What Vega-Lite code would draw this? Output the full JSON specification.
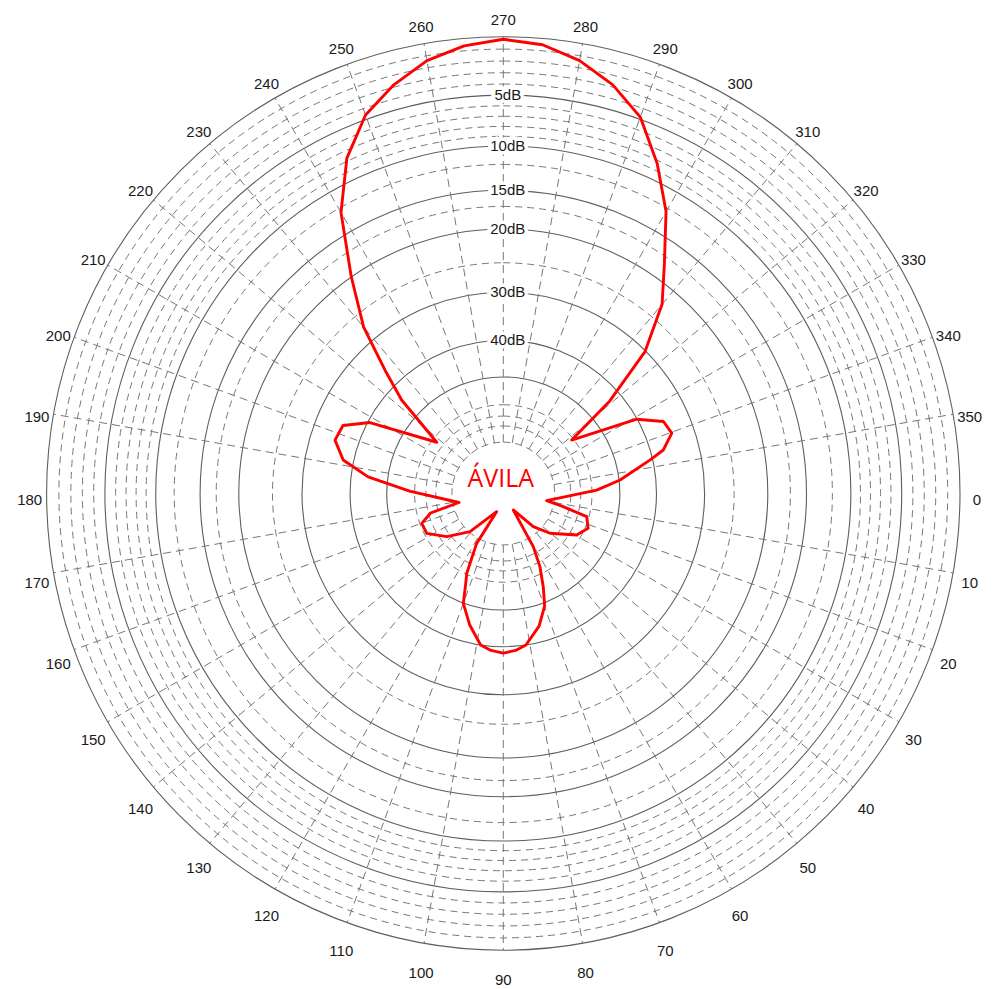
{
  "$schema": "https://vega.github.io/schema/vega-lite/v6.json",
  "width": 995,
  "height": 989,
  "padding": 0,
  "autosize": {"type": "none"},
  "background": "white",
  "config": {"view": {"stroke": null}},
  "datasets": {
    "pattern": [
      {"i": 0, "angle": 270, "db": 0.2}, {"i": 1, "angle": 275, "db": 0.5}, {"i": 2, "angle": 280, "db": 1.4},
      {"i": 3, "angle": 285, "db": 2.8}, {"i": 4, "angle": 290, "db": 4.8}, {"i": 5, "angle": 295, "db": 8.3},
      {"i": 6, "angle": 300, "db": 12.4}, {"i": 7, "angle": 305, "db": 17.8}, {"i": 8, "angle": 310, "db": 22.5},
      {"i": 9, "angle": 315, "db": 30.2}, {"i": 10, "angle": 319, "db": 43}, {"i": 11, "angle": 322, "db": 60.8},
      {"i": 12, "angle": 330.9, "db": 40.1}, {"i": 13, "angle": 335.8, "db": 35.0}, {"i": 14, "angle": 340.3, "db": 34.3},
      {"i": 15, "angle": 344.8, "db": 37.1}, {"i": 16, "angle": 347.1, "db": 40.6}, {"i": 17, "angle": 353.4, "db": 49.7},
      {"i": 18, "angle": 357.9, "db": 58.1}, {"i": 19, "angle": 9.4, "db": 85.7}, {"i": 20, "angle": 12.4, "db": 73.5},
      {"i": 21, "angle": 15.5, "db": 60.9}, {"i": 22, "angle": 22.3, "db": 58.8}, {"i": 23, "angle": 29.5, "db": 61.9},
      {"i": 24, "angle": 40.4, "db": 73.5}, {"i": 25, "angle": 47.9, "db": 85.1}, {"i": 26, "angle": 58.8, "db": 115.9},
      {"i": 27, "angle": 60.6, "db": 73.7}, {"i": 28, "angle": 63.4, "db": 63}, {"i": 29, "angle": 66.8, "db": 55.1},
      {"i": 30, "angle": 69.8, "db": 49}, {"i": 31, "angle": 74.9, "db": 44}, {"i": 32, "angle": 81.5, "db": 40},
      {"i": 33, "angle": 85.5, "db": 39}, {"i": 34, "angle": 90, "db": 38.5}, {"i": 35, "angle": 94.5, "db": 39},
      {"i": 36, "angle": 98.5, "db": 40}, {"i": 37, "angle": 104.4, "db": 44.5}, {"i": 38, "angle": 110, "db": 49.9},
      {"i": 39, "angle": 112.2, "db": 55.5}, {"i": 40, "angle": 114.6, "db": 60.4}, {"i": 41, "angle": 118.1, "db": 76.5},
      {"i": 42, "angle": 110.1, "db": 115.7},
      {"i": 43, "angle": 131.1, "db": 80.5}, {"i": 44, "angle": 142.6, "db": 68.1}, {"i": 45, "angle": 152.5, "db": 61.0},
      {"i": 46, "angle": 159.9, "db": 60.8}, {"i": 47, "angle": 165, "db": 66}, {"i": 48, "angle": 168.5, "db": 84.7},
      {"i": 49, "angle": 181.5, "db": 58}, {"i": 50, "angle": 187, "db": 44.3}, {"i": 51, "angle": 191.8, "db": 37.6},
      {"i": 52, "angle": 197.6, "db": 34.8}, {"i": 53, "angle": 203, "db": 35.3}, {"i": 54, "angle": 208, "db": 40.5},
      {"i": 55, "angle": 217.6, "db": 62}, {"i": 56, "angle": 222.6, "db": 43.8}, {"i": 57, "angle": 226.2, "db": 36.0},
      {"i": 58, "angle": 230, "db": 27.2}, {"i": 59, "angle": 235, "db": 19.9}, {"i": 60, "angle": 240, "db": 12.5},
      {"i": 61, "angle": 245, "db": 7.7}, {"i": 62, "angle": 250, "db": 4.6}, {"i": 63, "angle": 255, "db": 2.8},
      {"i": 64, "angle": 260, "db": 1.4}, {"i": 65, "angle": 265, "db": 0.6}, {"i": 66, "angle": 270, "db": 0.2}
    ],
    "solidCircles": [
      {"db": 0}, {"db": 5}, {"db": 10}, {"db": 15}, {"db": 20}, {"db": 30}, {"db": 40}, {"db": 50}
    ],
    "dashedCircles": [
      {"db": 1}, {"db": 2}, {"db": 3}, {"db": 4}, {"db": 6}, {"db": 7}, {"db": 8}, {"db": 9},
      {"db": 12}, {"db": 17}, {"db": 25}, {"db": 60}, {"db": 65}, {"db": 70}, {"db": 80}
    ],
    "spokes": [
      {"angle": 10}, {"angle": 20}, {"angle": 30}, {"angle": 40}, {"angle": 50}, {"angle": 60}, {"angle": 70}, {"angle": 80},
      {"angle": 90}, {"angle": 100}, {"angle": 110}, {"angle": 120}, {"angle": 130}, {"angle": 140}, {"angle": 150},
      {"angle": 160}, {"angle": 170}, {"angle": 190}, {"angle": 200}, {"angle": 210}, {"angle": 220}, {"angle": 230},
      {"angle": 240}, {"angle": 250}, {"angle": 260}, {"angle": 270}, {"angle": 280}, {"angle": 290}, {"angle": 300},
      {"angle": 310}, {"angle": 320}, {"angle": 330}, {"angle": 340}, {"angle": 350}
    ],
    "angleLabels": [
      {"angle": 0, "label": "0"}, {"angle": 10, "label": "10"}, {"angle": 20, "label": "20"}, {"angle": 30, "label": "30"},
      {"angle": 40, "label": "40"}, {"angle": 50, "label": "50"}, {"angle": 60, "label": "60"}, {"angle": 70, "label": "70"},
      {"angle": 80, "label": "80"}, {"angle": 90, "label": "90"}, {"angle": 100, "label": "100"}, {"angle": 110, "label": "110"},
      {"angle": 120, "label": "120"}, {"angle": 130, "label": "130"}, {"angle": 140, "label": "140"}, {"angle": 150, "label": "150"},
      {"angle": 160, "label": "160"}, {"angle": 170, "label": "170"}, {"angle": 180, "label": "180"}, {"angle": 190, "label": "190"},
      {"angle": 200, "label": "200"}, {"angle": 210, "label": "210"}, {"angle": 220, "label": "220"}, {"angle": 230, "label": "230"},
      {"angle": 240, "label": "240"}, {"angle": 250, "label": "250"}, {"angle": 260, "label": "260"}, {"angle": 270, "label": "270"},
      {"angle": 280, "label": "280"}, {"angle": 290, "label": "290"}, {"angle": 300, "label": "300"}, {"angle": 310, "label": "310"},
      {"angle": 320, "label": "320"}, {"angle": 330, "label": "330"}, {"angle": 340, "label": "340"}, {"angle": 350, "label": "350"}
    ],
    "dbLabels": [
      {"db": 5, "label": "5dB"}, {"db": 10, "label": "10dB"}, {"db": 15, "label": "15dB"},
      {"db": 20, "label": "20dB"}, {"db": 30, "label": "30dB"}, {"db": 40, "label": "40dB"}
    ],
    "title": [{"name": "ÁVILA"}]
  },
  "layer": [
    {
      "data": {"name": "dashedCircles"},
      "transform": [{"calculate": "exp(-0.02731*datum.db)", "as": "rr"}],
      "mark": {"type": "arc", "theta": 0, "theta2": 6.2835, "filled": false, "stroke": "#777777", "strokeWidth": 1, "strokeDash": [7, 5]},
      "encoding": {
        "x": {"datum": 0, "type": "quantitative", "scale": {"domain": [-1.10203, 1.07664], "nice": false, "zero": false}, "axis": null},
        "y": {"datum": 0, "type": "quantitative", "scale": {"domain": [-1.08058, 1.08496], "nice": false, "zero": false, "reverse": true}, "axis": null},
        "radius": {"field": "rr", "type": "quantitative", "stack": null, "scale": {"type": "linear", "domain": [0, 1], "range": [0, 456.7], "zero": true}}
      }
    },
    {
      "data": {"name": "solidCircles"},
      "transform": [{"calculate": "exp(-0.02731*datum.db)", "as": "rr"}],
      "mark": {"type": "arc", "theta": 0, "theta2": 6.2835, "filled": false, "stroke": "#5e5e5e", "strokeWidth": 1.1},
      "encoding": {
        "x": {"datum": 0, "type": "quantitative"},
        "y": {"datum": 0, "type": "quantitative"},
        "radius": {"field": "rr", "type": "quantitative", "stack": null}
      }
    },
    {
      "data": {"name": "spokes"},
      "transform": [
        {"calculate": "exp(-0.02731*80)*cos(datum.angle*PI/180)", "as": "x0"},
        {"calculate": "exp(-0.02731*80)*sin(datum.angle*PI/180)", "as": "y0"},
        {"calculate": "cos(datum.angle*PI/180)", "as": "x1"},
        {"calculate": "sin(datum.angle*PI/180)", "as": "y1"}
      ],
      "mark": {"type": "rule", "stroke": "#777777", "strokeWidth": 1, "strokeDash": [8, 5]},
      "encoding": {
        "x": {"field": "x0", "type": "quantitative"},
        "y": {"field": "y0", "type": "quantitative"},
        "x2": {"field": "x1"},
        "y2": {"field": "y1"}
      }
    },
    {
      "mark": {"type": "rule", "stroke": "#707070", "strokeWidth": 1},
      "encoding": {
        "x": {"datum": -1, "type": "quantitative"},
        "x2": {"datum": 1},
        "y": {"datum": 0, "type": "quantitative"}
      }
    },
    {
      "data": {"name": "dbLabels"},
      "transform": [{"calculate": "-exp(-0.02731*datum.db)", "as": "ly"}],
      "mark": {"type": "text", "align": "center", "baseline": "middle", "dx": 4.5, "fontSize": 15, "font": "Liberation Sans", "stroke": "white", "strokeWidth": 7, "fill": "white"},
      "encoding": {
        "x": {"datum": 0, "type": "quantitative"},
        "y": {"field": "ly", "type": "quantitative"},
        "text": {"field": "label"}
      }
    },
    {
      "data": {"name": "dbLabels"},
      "transform": [{"calculate": "-exp(-0.02731*datum.db)", "as": "ly"}],
      "mark": {"type": "text", "align": "center", "baseline": "middle", "dx": 4.5, "fontSize": 15, "font": "Liberation Sans", "fill": "#1a1a1a"},
      "encoding": {
        "x": {"datum": 0, "type": "quantitative"},
        "y": {"field": "ly", "type": "quantitative"},
        "text": {"field": "label"}
      }
    },
    {
      "data": {"name": "angleLabels"},
      "transform": [
        {"calculate": "1.037*cos(datum.angle*PI/180)", "as": "lx"},
        {"calculate": "1.051*sin(datum.angle*PI/180)", "as": "ly"}
      ],
      "mark": {"type": "text", "align": "center", "baseline": "middle", "dy": 6.5, "fontSize": 15, "font": "Liberation Sans", "fill": "#1a1a1a"},
      "encoding": {
        "x": {"field": "lx", "type": "quantitative"},
        "y": {"field": "ly", "type": "quantitative"},
        "text": {"field": "label"}
      }
    },
    {
      "data": {"name": "pattern"},
      "transform": [
        {"calculate": "exp(-0.02731*datum.db)*cos(datum.angle*PI/180)", "as": "px"},
        {"calculate": "exp(-0.02731*datum.db)*sin(datum.angle*PI/180)", "as": "py"}
      ],
      "mark": {"type": "line", "stroke": "#ff0000", "strokeWidth": 2.9, "strokeJoin": "round", "strokeCap": "round"},
      "encoding": {
        "x": {"field": "px", "type": "quantitative"},
        "y": {"field": "py", "type": "quantitative"},
        "order": {"field": "i", "type": "quantitative"}
      }
    },
    {
      "data": {"name": "title"},
      "mark": {"type": "text", "align": "center", "baseline": "alphabetic", "dx": -2.5, "dy": -6, "fontSize": 25, "font": "Open Sans", "fill": "#ff0000"},
      "encoding": {
        "x": {"datum": 0, "type": "quantitative"},
        "y": {"datum": 0, "type": "quantitative"},
        "text": {"field": "name"}
      }
    }
  ]
}
